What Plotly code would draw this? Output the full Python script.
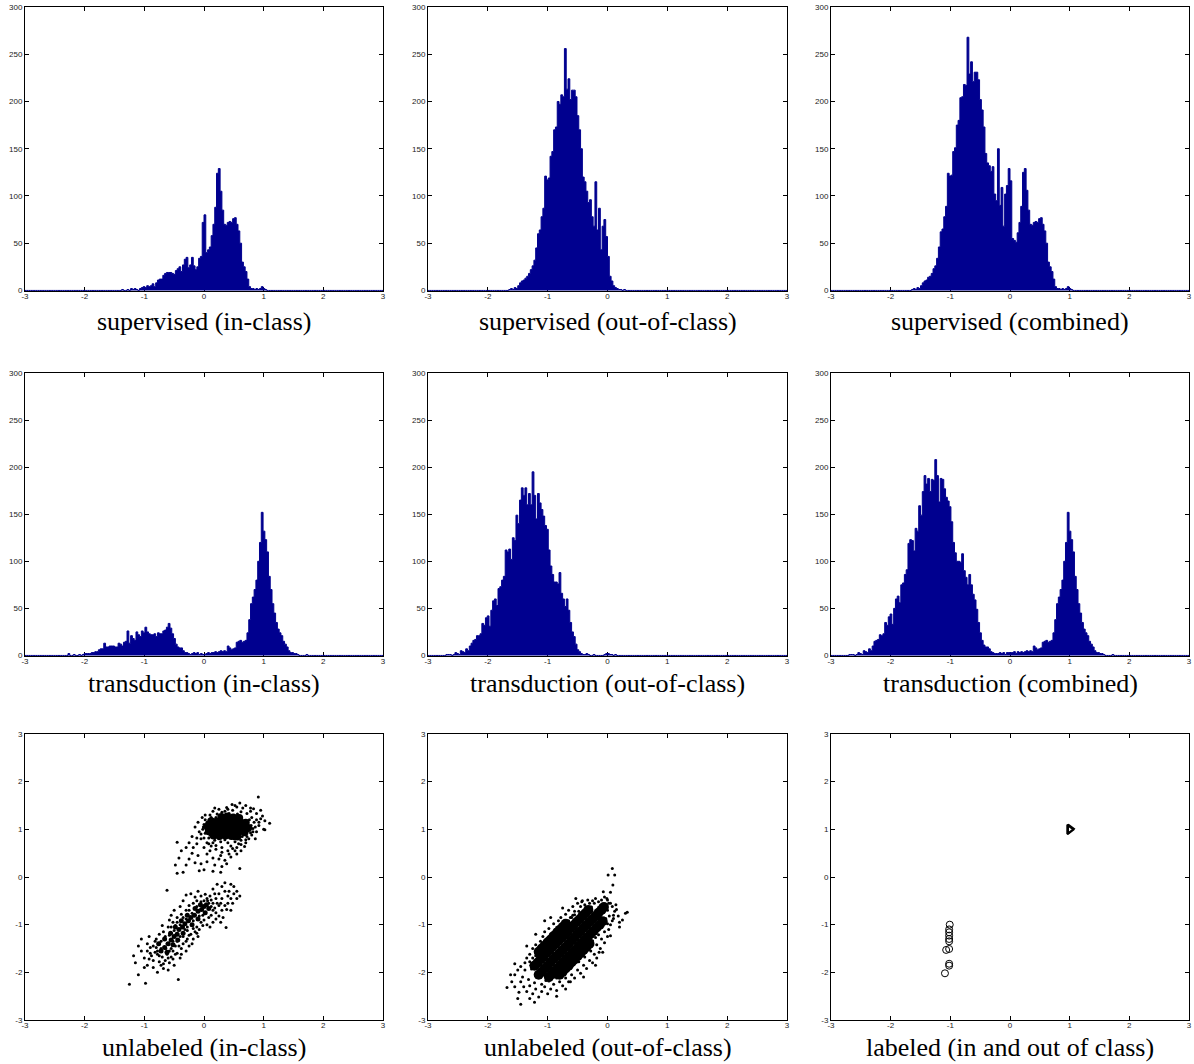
import numpy as np
import plotly.graph_objects as go

# ---------------- histogram data (bin width 0.03 on [-3, 3]) ----------------
BIN = 0.03
sup_in_start = -1.41
sup_in_counts = [0, 1, 0, 0, 1, 0, 2, 1, 2, 1, 0, 2,
                 3, 4, 3, 5, 4, 5, 7, 4, 8, 11, 12, 12,
                 16, 18, 19, 19, 19, 18, 17, 21, 23, 25, 20, 27,
                 33, 35, 24, 27, 35, 26, 22, 25, 34, 36, 72, 80,
                 40, 43, 46, 58, 70, 88, 124, 129, 105, 85, 70, 69,
                 72, 73, 72, 76, 77, 70, 63, 50, 30, 25, 20, 12,
                 4, 2, 2, 1, 2, 1, 2, 4, 2, 1]

sup_out_start = -1.65
sup_out_counts = [1, 2, 1, 3, 2, 5, 8, 10, 11, 13, 15, 18,
                  22, 26, 32, 45, 60, 64, 78, 87, 121, 117, 119, 142,
                  147, 170, 173, 200, 197, 207, 205, 256, 213, 224, 202, 212,
                  212, 205, 185, 170, 150, 120, 115, 105, 93, 96, 78, 68,
                  115, 64, 87, 43, 68, 75, 57, 36, 15, 10, 5, 3,
                  2, 1, 1, 0, 1]

tr_in_start = -2.43
tr_in_counts = [0, 0, 0, 0, 0, 2, 0, 0, 1, 0, 0, 1, 0, 1, 2,
                2, 2, 2, 3, 3, 4, 4,
                6, 7, 7, 13, 9, 9, 10, 10, 10, 9, 9, 13, 12, 10, 14, 15,
                26, 13, 21, 18, 16, 25, 22, 20, 26, 24, 30, 25, 23, 22, 22, 23,
                20, 24, 23, 23, 26, 27, 30, 34, 29, 23, 18, 12, 9, 8, 8, 5,
                3, 3, 2, 1, 2, 3, 2, 3, 1, 2, 1, 1, 2, 3, 2, 3,
                3, 4, 3, 4, 5, 4, 5, 4, 10, 8, 6, 7, 8, 14, 15, 16,
                14, 15, 16, 24, 38, 55, 62, 70, 80, 100, 120, 152, 132, 123, 110, 84,
                70, 55, 45, 35, 28, 24, 21, 15, 12, 9, 5, 3, 3, 2, 2, 1,
                0, 0, 0, 0, 1, 0]

tr_out_start = -2.73
tr_out_counts = [0, 1, 1, 1, 0, 1, 3, 2, 1, 5, 4, 3, 7, 5, 10, 13,
                 16, 17, 21, 21, 23, 34, 32, 40, 42, 31, 48, 58, 60, 53, 71, 73,
                 80, 84, 112, 110, 113, 102, 125, 122, 149, 140, 165, 178, 170, 178, 160, 172,
                 160, 195, 170, 145, 172, 162, 155, 148, 138, 134, 112, 95, 86, 78, 78, 76,
                 88, 66, 60, 52, 60, 48, 35, 25, 20, 12, 6, 4, 2, 1, 1, 2,
                 1, 0, 0, 1, 0, 0, 0, 0, 0, 1, 2, 2, 1, 1, 0, 1, 0]

# ---------------- scatter data ----------------
in_upper_core = [(0.29, 1.26), (0.39, 1.27), (0.49, 1.25), (0.59, 1.24),
                 (0.12, 1.17), (0.21, 1.16), (0.31, 1.18), (0.41, 1.17), (0.51, 1.16), (0.61, 1.15), (0.70, 1.14),
                 (0.06, 1.06), (0.16, 1.07), (0.26, 1.06), (0.36, 1.08), (0.46, 1.06), (0.56, 1.05), (0.66, 1.05), (0.74, 1.03),
                 (0.08, 0.96), (0.18, 0.97), (0.28, 0.95), (0.38, 0.97), (0.48, 0.96), (0.58, 0.95), (0.68, 0.94),
                 (0.16, 0.87), (0.26, 0.86), (0.36, 0.87), (0.46, 0.86), (0.56, 0.85)]

in_upper_spread = [(0.91, 1.68), (0.60, 1.55), (0.47, 1.52), (0.70, 1.50), (0.83, 1.43), (0.38, 1.46), (0.25, 1.42),
                   (0.55, 1.47), (0.78, 1.38), (0.88, 1.33), (0.95, 1.22), (1.00, 1.00), (1.02, 0.99), (1.10, 1.13),
                   (0.92, 1.15), (0.86, 1.05), (0.88, 0.95), (0.80, 0.88), (0.75, 0.80), (0.70, 0.72), (0.62, 0.68),
                   (0.55, 0.62), (0.48, 0.60), (0.40, 0.55), (0.30, 0.52), (0.20, 0.58), (0.12, 0.65), (0.05, 0.72),
                   (0.00, 0.82), (-0.05, 0.90), (-0.02, 1.00), (0.00, 1.10), (0.02, 1.20), (0.10, 1.30), (0.15, 1.38),
                   (-0.10, 1.15), (-0.15, 1.05), (-0.08, 0.95), (-0.20, 0.85), (-0.25, 0.72), (-0.12, 0.70),
                   (-0.30, 0.62), (-0.45, 0.73), (-0.38, 0.55), (-0.20, 0.50), (-0.10, 0.45), (0.05, 0.48),
                   (0.15, 0.40), (0.25, 0.38), (0.35, 0.35), (0.45, 0.42), (0.55, 0.48), (0.62, 0.55), (-0.25, 0.38),
                   (-0.42, 0.40), (-0.48, 0.25), (-0.30, 0.25), (-0.15, 0.30), (-0.05, 0.28), (0.05, 0.32),
                   (0.18, 0.25), (0.30, 0.22), (0.60, 0.18), (-0.45, 0.08), (-0.35, 0.10), (-0.08, 0.13),
                   (0.00, 0.15), (0.15, 0.12), (0.28, 0.10), (0.38, 0.28), (0.10, 0.55), (0.00, 0.62), (-0.18, 0.62),
                   (0.12, 1.25), (0.22, 1.32), (0.35, 1.38), (0.48, 1.40), (0.62, 1.37), (0.72, 1.33), (0.80, 1.25),
                   (0.84, 1.15), (0.82, 1.02), (0.78, 0.93), (0.72, 0.85), (0.62, 0.77), (0.52, 0.74), (0.40, 0.72),
                   (0.28, 0.74), (0.18, 0.77), (0.08, 0.82), (0.02, 0.92), (-0.01, 1.05), (0.05, 1.15), (0.92, 1.08),
                   (0.98, 1.28), (0.65, 1.45), (0.30, 1.36), (-0.03, 1.25), (0.20, 0.66), (0.68, 0.64), (0.86, 0.80),
                   (0.42, 1.33), (0.56, 1.32), (0.76, 1.20), (0.79, 1.08), (0.74, 0.97), (0.64, 0.85), (0.10, 0.88),
                   (0.05, 1.00), (0.20, 1.25), (0.35, 0.78), (0.50, 0.80), (0.25, 0.80),
                   (0.02, 1.30), (0.08, 0.70), (0.15, 0.72), (0.30, 0.62), (0.45, 0.65), (0.58, 0.70), (0.70, 0.78),
                   (0.82, 0.95), (0.88, 1.20), (0.78, 1.45), (0.52, 1.50), (0.40, 1.42), (0.18, 1.45), (-0.05, 0.80),
                   (-0.12, 0.82), (0.28, 0.45), (0.42, 0.48), (0.52, 0.55), (0.95, 1.40), (1.02, 1.18)]

in_lower_core = [(-0.72, -1.55), (-0.66, -1.48), (-0.60, -1.40), (-0.62, -1.58), (-0.55, -1.32), (-0.50, -1.25),
                 (-0.56, -1.18), (-0.45, -1.20), (-0.42, -1.10), (-0.48, -1.05), (-0.36, -1.05), (-0.32, -0.98),
                 (-0.38, -0.92), (-0.26, -0.92), (-0.22, -0.85), (-0.28, -0.80), (-0.16, -0.80), (-0.10, -0.72),
                 (-0.15, -0.66), (-0.04, -0.68), (0.00, -0.62), (0.04, -0.58), (-0.06, -0.58), (0.08, -0.66),
                 (0.02, -0.75), (-0.10, -0.88), (-0.20, -1.00), (-0.35, -1.18), (-0.66, -1.30), (-0.76, -1.40),
                 (-0.52, -1.42), (-0.44, -1.32)]

in_lower_spread = [(-1.25, -2.25), (-0.98, -2.23), (-0.43, -2.15), (-1.10, -2.05), (-1.18, -1.65), (-1.10, -1.45),
                   (-1.00, -1.70), (-0.95, -1.85), (-0.90, -1.60), (-0.85, -1.75), (-0.85, -1.45), (-0.80, -1.30),
                   (-0.78, -1.55), (-0.75, -1.65), (-0.72, -1.85), (-0.68, -1.92), (-0.65, -1.75), (-0.62, -1.62),
                   (-0.58, -1.80), (-0.55, -1.68), (-0.52, -1.55), (-0.50, -1.85), (-0.48, -1.45), (-0.45, -1.60),
                   (-0.40, -1.70), (-0.38, -1.50), (-0.35, -1.40), (-0.30, -1.55), (-0.28, -1.30), (-0.25, -1.45),
                   (-0.22, -1.20), (-0.18, -1.30), (-0.15, -1.15), (-0.12, -1.05), (-0.08, -1.10), (-0.05, -0.95),
                   (0.00, -0.90), (0.05, -1.00), (0.08, -0.85), (0.12, -0.80), (0.15, -0.95), (0.20, -0.75),
                   (0.25, -0.82), (0.30, -0.70), (0.35, -0.60), (0.40, -0.55), (0.45, -0.45), (0.50, -0.35),
                   (0.55, -0.30), (0.48, -0.55), (0.40, -0.40), (0.35, -0.30), (0.30, -0.20), (0.25, -0.35),
                   (0.20, -0.45), (0.15, -0.55), (0.10, -0.40), (0.05, -0.45), (0.00, -0.50), (-0.05, -0.40),
                   (-0.12, -0.50), (-0.18, -0.55), (-0.25, -0.60), (-0.30, -0.70), (-0.38, -0.78), (-0.45, -0.85),
                   (-0.52, -0.95), (-0.60, -1.05), (-0.68, -1.15), (-0.75, -1.20), (-0.82, -1.35), (-0.92, -1.25),
                   (-1.05, -1.30), (-0.95, -1.40), (-0.58, -0.90), (-0.40, -0.62), (-0.22, -0.35), (-0.10, -0.30),
                   (0.37, -1.06), (0.45, -0.70), (0.55, -0.45), (0.22, -0.15), (0.35, -0.12), (0.45, -0.15),
                   (0.15, -0.25), (-0.62, -0.28), (0.25, -0.60), (0.18, -0.65), (-0.02, -0.80), (-0.32, -1.10),
                   (-0.45, -1.35), (-0.62, -1.40), (-0.70, -1.68), (-0.58, -1.55), (-0.35, -1.25), (-0.18, -1.08),
                   (-0.28, -1.05), (-0.48, -1.02), (-0.65, -1.25), (-0.80, -1.48), (-0.90, -1.48), (-0.60, -1.95),
                   (-0.75, -1.78), (-0.88, -1.65), (-1.05, -1.55), (0.08, -0.55), (0.30, -0.45), (0.32, -0.85),
                   (0.10, -1.05), (-0.10, -1.25), (-0.20, -1.40), (-0.38, -1.62), (0.60, -0.40), (0.50, -0.20),
                   (-0.70, -1.02), (-0.55, -0.80), (-0.15, -0.42), (0.12, -0.62), (0.20, -0.88), (-0.02, -1.02),
                   (-0.25, -1.22), (-0.42, -1.45), (-0.55, -1.50), (-0.78, -1.62), (-0.68, -1.82), (-0.85, -1.90),
                   (-1.15, -1.80), (-0.30, -0.38), (0.02, -0.36),
                   (-0.58, -1.22), (-0.50, -1.12), (-0.40, -1.00), (-0.30, -0.88), (-0.20, -0.76), (-0.12, -0.62),
                   (0.06, -0.50), (0.15, -0.70), (0.22, -0.55), (-0.08, -0.82), (-0.18, -0.92), (-0.28, -1.12),
                   (-0.40, -1.25), (-0.52, -1.35), (-0.64, -1.50), (-0.72, -1.35), (-0.82, -1.58), (-0.92, -1.72),
                   (-0.55, -1.05), (-0.45, -0.95), (-0.35, -0.85), (-0.25, -0.70), (-0.05, -0.52), (0.12, -0.48),
                   (0.28, -0.55), (0.38, -0.68), (0.28, -0.95), (-0.12, -1.18), (-0.30, -1.35), (-0.48, -1.62),
                   (-0.60, -1.70), (-0.72, -1.50), (-0.95, -1.55), (-1.00, -1.90), (-0.78, -2.00), (-0.52, -1.72),
                   (0.42, -0.30), (0.18, -0.35), (-0.35, -0.50), (-0.50, -0.70)]

out_core = [(-1.15, -2.05), (-1.10, -1.99), (-1.05, -1.92), (-1.00, -1.86), (-0.95, -1.79), (-0.90, -1.72),
            (-0.85, -1.66), (-0.80, -1.60), (-0.75, -1.53), (-0.70, -1.47), (-0.65, -1.40), (-0.60, -1.33),
            (-0.55, -1.27), (-0.50, -1.20), (-0.45, -1.14), (-0.40, -1.07), (-0.35, -1.01), (-0.30, -0.94),
            (-0.25, -0.88), (-0.20, -0.82), (-0.15, -0.75), (-0.10, -0.69), (-0.06, -0.63),
            (-1.22, -1.86), (-1.17, -1.80), (-1.12, -1.73), (-1.07, -1.67), (-1.02, -1.60),
            (-0.97, -1.54), (-0.92, -1.47), (-0.87, -1.41), (-0.82, -1.34), (-0.77, -1.28), (-0.72, -1.21),
            (-0.67, -1.15), (-0.62, -1.08), (-0.57, -1.02), (-0.52, -0.95), (-0.47, -0.89), (-0.42, -0.82),
            (-0.37, -0.76), (-0.32, -0.69),
            (-0.98, -2.10), (-0.93, -2.04), (-0.88, -1.97), (-0.83, -1.91), (-0.78, -1.84),
            (-0.73, -1.78), (-0.68, -1.71), (-0.63, -1.65), (-0.58, -1.58), (-0.53, -1.52), (-0.48, -1.45),
            (-0.43, -1.39), (-0.38, -1.32), (-0.33, -1.26), (-0.28, -1.19), (-0.23, -1.13), (-0.18, -1.06),
            (-0.13, -1.00), (-0.08, -0.93),
            (-1.15, -1.57), (-1.10, -1.50), (-1.05, -1.44), (-1.00, -1.37),
            (-0.95, -1.31), (-0.90, -1.24), (-0.85, -1.18), (-0.80, -1.11), (-0.75, -1.05), (-0.70, -0.98),
            (-0.80, -2.05), (-0.75, -1.99), (-0.70, -1.92), (-0.65, -1.86), (-0.60, -1.79),
            (-0.55, -1.73), (-0.50, -1.66), (-0.45, -1.60), (-0.40, -1.53), (-0.35, -1.47), (-0.30, -1.40)]

out_spread = [(-1.55, -2.05), (-1.50, -1.95), (-1.45, -1.88), (-1.42, -2.10), (-1.38, -1.80), (-1.35, -1.70),
              (-1.30, -1.62), (-1.28, -1.85), (-1.25, -1.50), (-1.20, -1.42), (-1.18, -1.60), (-1.12, -1.35),
              (-1.08, -1.25), (-1.05, -1.15), (-1.02, -1.40), (-0.98, -1.08), (-0.95, -1.20), (-0.90, -0.98),
              (-0.88, -1.10), (-0.82, -0.92), (-0.78, -0.85), (-0.75, -1.00), (-0.70, -0.78), (-0.65, -0.70),
              (-0.62, -0.85), (-0.58, -0.62), (-0.55, -0.72), (-0.50, -0.55), (-0.45, -0.62), (-0.42, -0.50),
              (-0.38, -0.58), (-0.33, -0.48), (-0.30, -0.55), (-0.25, -0.50), (-0.20, -0.45), (-0.15, -0.52),
              (-0.10, -0.48), (-0.05, -0.42), (0.00, -0.48), (0.02, -0.55),
              (-1.40, -2.30), (-1.35, -2.40), (-1.30, -2.28), (-1.25, -2.45), (-1.20, -2.35), (-1.15, -2.52),
              (-1.10, -2.40), (-1.05, -2.30), (-1.00, -2.45), (-0.95, -2.35), (-0.90, -2.25), (-0.85, -2.38),
              (-0.80, -2.20), (-0.75, -2.28), (-0.70, -2.12), (-0.65, -2.20), (-0.60, -2.05), (-0.55, -2.12),
              (-0.50, -1.95), (-0.45, -2.02), (-0.40, -1.85), (-0.35, -1.92), (-0.30, -1.75), (-0.25, -1.80),
              (-0.22, -1.62), (-0.18, -1.70), (-0.12, -1.50), (-0.08, -1.58), (-0.05, -1.38), (0.00, -1.25),
              (0.02, -1.10), (0.05, -1.00), (0.08, -0.92), (0.10, -0.80), (0.12, -0.72), (0.15, -0.68),
              (0.18, -0.82), (0.20, -0.95), (0.08, -0.62), (0.05, -0.55), (0.14, -0.58),
              (-1.32, -2.15), (-1.22, -2.22), (-1.10, -2.25), (-0.98, -2.18), (-0.88, -2.10), (-0.78, -2.02),
              (-0.68, -1.95), (-0.58, -1.85), (-0.48, -1.78), (-0.38, -1.68), (-0.28, -1.55), (-0.18, -1.42),
              (-0.10, -1.30), (-0.05, -1.15), (0.00, -0.98), (0.03, -0.82), (0.00, -0.70), (-0.12, -0.60),
              (-0.22, -0.55), (-0.35, -0.68), (-0.48, -0.72), (-0.58, -0.80), (-0.70, -0.92), (-0.80, -1.05),
              (-0.90, -1.18), (-1.00, -1.30), (-1.10, -1.48), (-1.20, -1.65), (-1.30, -1.78), (-1.38, -1.95),
              (-1.45, -2.20), (-1.60, -2.20), (-1.55, -2.30), (-1.48, -2.42),
              (-1.27, -1.93), (-1.25, -1.70), (-1.03, -2.17), (-0.85, -2.12), (-0.27, -0.63), (-0.03, -0.87),
              (-0.65, -0.92), (-0.60, -0.85), (-0.55, -0.79), (-0.25, -1.34), (-0.20, -1.27), (-0.15, -1.21),
              (0.08, 0.18), (0.12, 0.04), (0.01, 0.04), (0.09, -0.17), (0.05, -0.32), (0.30, -0.76),
              (0.10, -0.87), (0.05, -1.23), (-0.14, -1.58), (-0.62, -2.20), (-1.45, -2.67), (-1.22, -2.63),
              (-1.68, -2.32), (-1.55, -1.82), (-1.05, -0.92), (-0.53, -0.45), (-0.43, -0.52), (-0.07, -0.31),
              (-0.01, -0.45), (0.33, -0.74), (-1.62, -2.05), (-1.50, -2.55), (-1.30, -2.55), (-0.85, -2.50),
              (-0.70, -2.35), (-0.40, -2.10), (-0.20, -1.85), (0.20, -1.05), (0.25, -0.90), (-0.75, -0.65),
              (-0.95, -0.85), (-1.20, -1.20), (-1.35, -1.45)]

lab_out_x = [-1.01, -1.02, -1.02, -1.02, -1.02, -1.02, -1.02, -1.07, -1.02, -1.02, -1.09]
lab_out_y = [-1.00, -1.10, -1.16, -1.23, -1.30, -1.35, -1.51, -1.53, -1.82, -1.86, -2.02]
lab_in_x = [0.99, 1.00, 1.01]
lab_in_y = [1.00, 0.99, 1.01]

titles = ["supervised (in-class)", "supervised (out-of-class)", "supervised (combined)",
          "transduction (in-class)", "transduction (out-of-class)", "transduction (combined)",
          "unlabeled (in-class)", "unlabeled (out-of-class)", "labeled (in and out of class)"]
x_ticks = [-3, -2, -1, 0, 1, 2, 3]
hist_y_ticks = [0, 50, 100, 150, 200, 250, 300]
scat_y_ticks = [-3, -2, -1, 0, 1, 2, 3]

# ---------------- build ----------------
W, H = 1194, 1064
EDGES = np.round(np.linspace(-3, 3, 201), 4)


def full(start, counts):
    arr = np.zeros(200)
    i0 = int(round((start + 3) / BIN))
    arr[i0:i0 + len(counts)] = counts
    return arr


h_sup_in = full(sup_in_start, sup_in_counts)
h_sup_out = full(sup_out_start, sup_out_counts)
h_tr_in = full(tr_in_start, tr_in_counts)
h_tr_out = full(tr_out_start, tr_out_counts)
hists = [h_sup_in, h_sup_out, h_sup_in + h_sup_out, h_tr_in, h_tr_out, h_tr_in + h_tr_out]

col_px = [(25, 383), (428, 787), (831, 1189)]
row_px = [(7, 291), (373, 656), (734, 1020)]
title_px = [321, 683, 1047]

BLUE = "#00008F"
fig = go.Figure()

for i, h in enumerate(hists):
    n = i + 1
    fig.add_trace(go.Scatter(x=EDGES, y=np.append(h, h[-1]), mode="lines", line_shape="hv",
                             line=dict(color=BLUE, width=1), fill="tozeroy", fillcolor=BLUE,
                             xaxis=f"x{n}", yaxis=f"y{n}", hoverinfo="skip"))


def add_pts(pts, n, size):
    fig.add_trace(go.Scatter(x=[p[0] for p in pts], y=[p[1] for p in pts], mode="markers",
                             marker=dict(color="black", size=size, line=dict(width=0)),
                             xaxis=f"x{n}", yaxis=f"y{n}", hoverinfo="skip"))


add_pts(in_upper_core, 7, 8)
add_pts(in_lower_core, 7, 5)
add_pts(in_upper_spread, 7, 3)
add_pts(in_lower_spread, 7, 3)
add_pts(out_core, 8, 10)
add_pts(out_spread, 8, 3)

fig.add_trace(go.Scatter(x=lab_out_x, y=lab_out_y, mode="markers",
                         marker=dict(symbol="circle-open", color="black", size=7, line=dict(width=1, color="black")),
                         xaxis="x9", yaxis="y9"))
fig.add_trace(go.Scatter(x=lab_in_x, y=lab_in_y, mode="markers",
                         marker=dict(symbol="triangle-right-open", color="black", size=8,
                                     line=dict(width=1.5, color="black")),
                         xaxis="x9", yaxis="y9"))

axis_common = dict(showline=True, linecolor="black", linewidth=1, mirror="ticks", ticks="inside",
                   ticklen=4, tickcolor="black", showgrid=False, zeroline=False, fixedrange=True,
                   automargin=False,
                   tickfont=dict(family="Liberation Sans, Arial, sans-serif", size=8, color="#222"))

layout = dict(width=W, height=H, margin=dict(l=0, r=0, t=0, b=0, pad=0, autoexpand=False), showlegend=False,
              paper_bgcolor="white", plot_bgcolor="white", annotations=[])

for n in range(1, 10):
    r, c = (n - 1) // 3, (n - 1) % 3
    x0, x1 = col_px[c]
    y0, y1 = row_px[r]
    xa = dict(axis_common, domain=[x0 / W, x1 / W], range=[-3, 3], anchor=f"y{n}",
              tickvals=x_ticks, ticktext=[str(t) for t in x_ticks], ticklabelstandoff=-3)
    if n <= 6:
        ya = dict(axis_common, domain=[1 - y1 / H, 1 - y0 / H], range=[-0.6, 300], anchor=f"x{n}",
                  tickvals=hist_y_ticks, ticktext=[str(t) for t in hist_y_ticks])
        xa["layer"] = "below traces"
        ya["layer"] = "below traces"
    else:
        ya = dict(axis_common, domain=[1 - y1 / H, 1 - y0 / H], range=[-3, 3], anchor=f"x{n}",
                  tickvals=scat_y_ticks, ticktext=[str(t) for t in scat_y_ticks])
    key = "" if n == 1 else str(n)
    layout["xaxis" + key] = xa
    layout["yaxis" + key] = ya
    layout["annotations"].append(dict(text=titles[n - 1], xref="paper", yref="paper",
                                      x=(x0 + x1) / 2 / W, y=1 - title_px[r] / H,
                                      xanchor="center", yanchor="middle", showarrow=False,
                                      font=dict(family="Liberation Serif, serif", size=26, color="black")))

fig.update_layout(**layout)
fig.write_html("out.html", config={"displayModeBar": False},
               post_script="document.body.style.margin='0';document.body.style.overflow='hidden';")
